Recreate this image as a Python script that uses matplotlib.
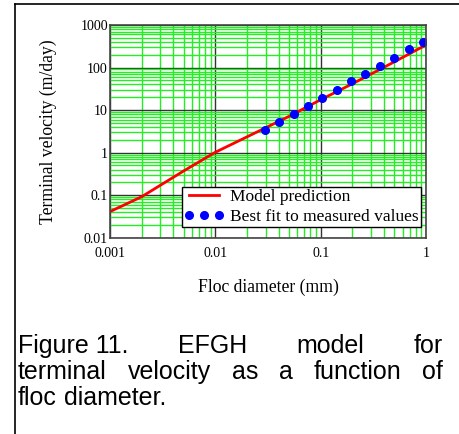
import matplotlib
matplotlib.use("Agg")
import matplotlib.pyplot as plt
from matplotlib.lines import Line2D

# model curve
model_d = [0.001, 0.002, 0.005, 0.01, 0.02, 0.05, 0.1, 0.2, 0.5, 1.0]
model_v = [0.041, 0.092, 0.37, 1.02, 2.35, 7.1, 17.5, 41.5, 136.0, 339.0]

# best fit to measured values
fit_d = [0.0294, 0.0402, 0.0554, 0.0753, 0.1037, 0.142, 0.194, 0.265,
         0.366, 0.500, 0.685, 0.937]
fit_v = [3.40, 5.16, 8.22, 12.5, 18.9, 29.2, 47.5, 71.6, 108.7, 165.0,
         268.0, 405.0]

x_ticks = [0.001, 0.01, 0.1, 1]
x_tick_labels = ["0.001", "0.01", "0.1", "1"]
y_ticks = [0.01, 0.1, 1, 10, 100, 1000]
y_tick_labels = ["0.01", "0.1", "1", "10", "100", "1000"]

caption = [
    ["Figure 11.", "EFGH", "model", "for"],
    ["terminal", "velocity", "as", "a", "function", "of"],
    ["floc", "diameter."],
]

W, H = 459, 434
fig = plt.figure(figsize=(W / 100, H / 100), dpi=100)
serif = "Liberation Serif"

ax = fig.add_axes([110 / W, 1 - 237.7 / H, 316 / W, 212.7 / H])
ax.set_xscale("log")
ax.set_yscale("log")
ax.set_xlim(0.001, 1)
ax.set_ylim(0.01, 1000)

# grid
ax.grid(which="minor", color="#22f022", lw=1.0)
ax.grid(which="major", color="#333333", lw=1.0)
ax.set_axisbelow(True)
ax.tick_params(which="both", length=0)
for s in ax.spines.values():
    s.set_color("#444444")
    s.set_linewidth(1.2)

ax.set_xticks(x_ticks)
ax.set_xticklabels(x_tick_labels, family=serif, fontsize=10)
ax.set_yticks(y_ticks)
ax.set_yticklabels(y_tick_labels, family=serif, fontsize=10)
ax.tick_params(axis="x", pad=7)
ax.tick_params(axis="y", pad=1.5)

ax.plot(model_d, model_v, color="red", lw=2, label="Model prediction")
ax.plot(fit_d, fit_v, "o", color="blue", ms=5.5, label="Best fit to measured values")

ax.set_xlabel("Floc diameter (mm)", family=serif, fontsize=12.7, labelpad=13)
ax.set_ylabel("Terminal velocity (m/day)", family=serif, fontsize=12.7, labelpad=17)

leg = ax.legend(loc="lower left", bbox_to_anchor=((182 - 110) / 316, (237.7 - 227) / 212.7),
                borderaxespad=0, numpoints=3, prop={"family": serif, "size": 12.5},
                fancybox=False, framealpha=1, edgecolor="black", borderpad=0.12,
                labelspacing=0.2, handlelength=2.3, handletextpad=0.35)
leg.get_frame().set_linewidth(1.0)

# page frame lines
fig.add_artist(Line2D([15 / W, 15 / W], [0, 1 - 4 / H], color="black", lw=1.2))
fig.add_artist(Line2D([15 / W, 1], [1 - 4 / H, 1 - 4 / H], color="black", lw=1.2))

# justified caption
fig.canvas.draw()
renderer = fig.canvas.get_renderer()
left, right = 18, 443
baselines = [353, 379, 405]
cap_size = 18
for i, words in enumerate(caption):
    texts = [fig.text(0, 0, w, family="Liberation Sans", fontsize=cap_size,
                      va="baseline", ha="left") for w in words]
    widths = [t.get_window_extent(renderer).width for t in texts]
    if i < len(caption) - 1:
        gap = (right - left - sum(widths)) / (len(words) - 1)
    else:
        gap = 0.278 * cap_size * 100 / 72
    x = left
    for t, w in zip(texts, widths):
        t.set_position((x / W, 1 - baselines[i] / H))
        x += w + gap

fig.savefig("out.png", dpi=100)
